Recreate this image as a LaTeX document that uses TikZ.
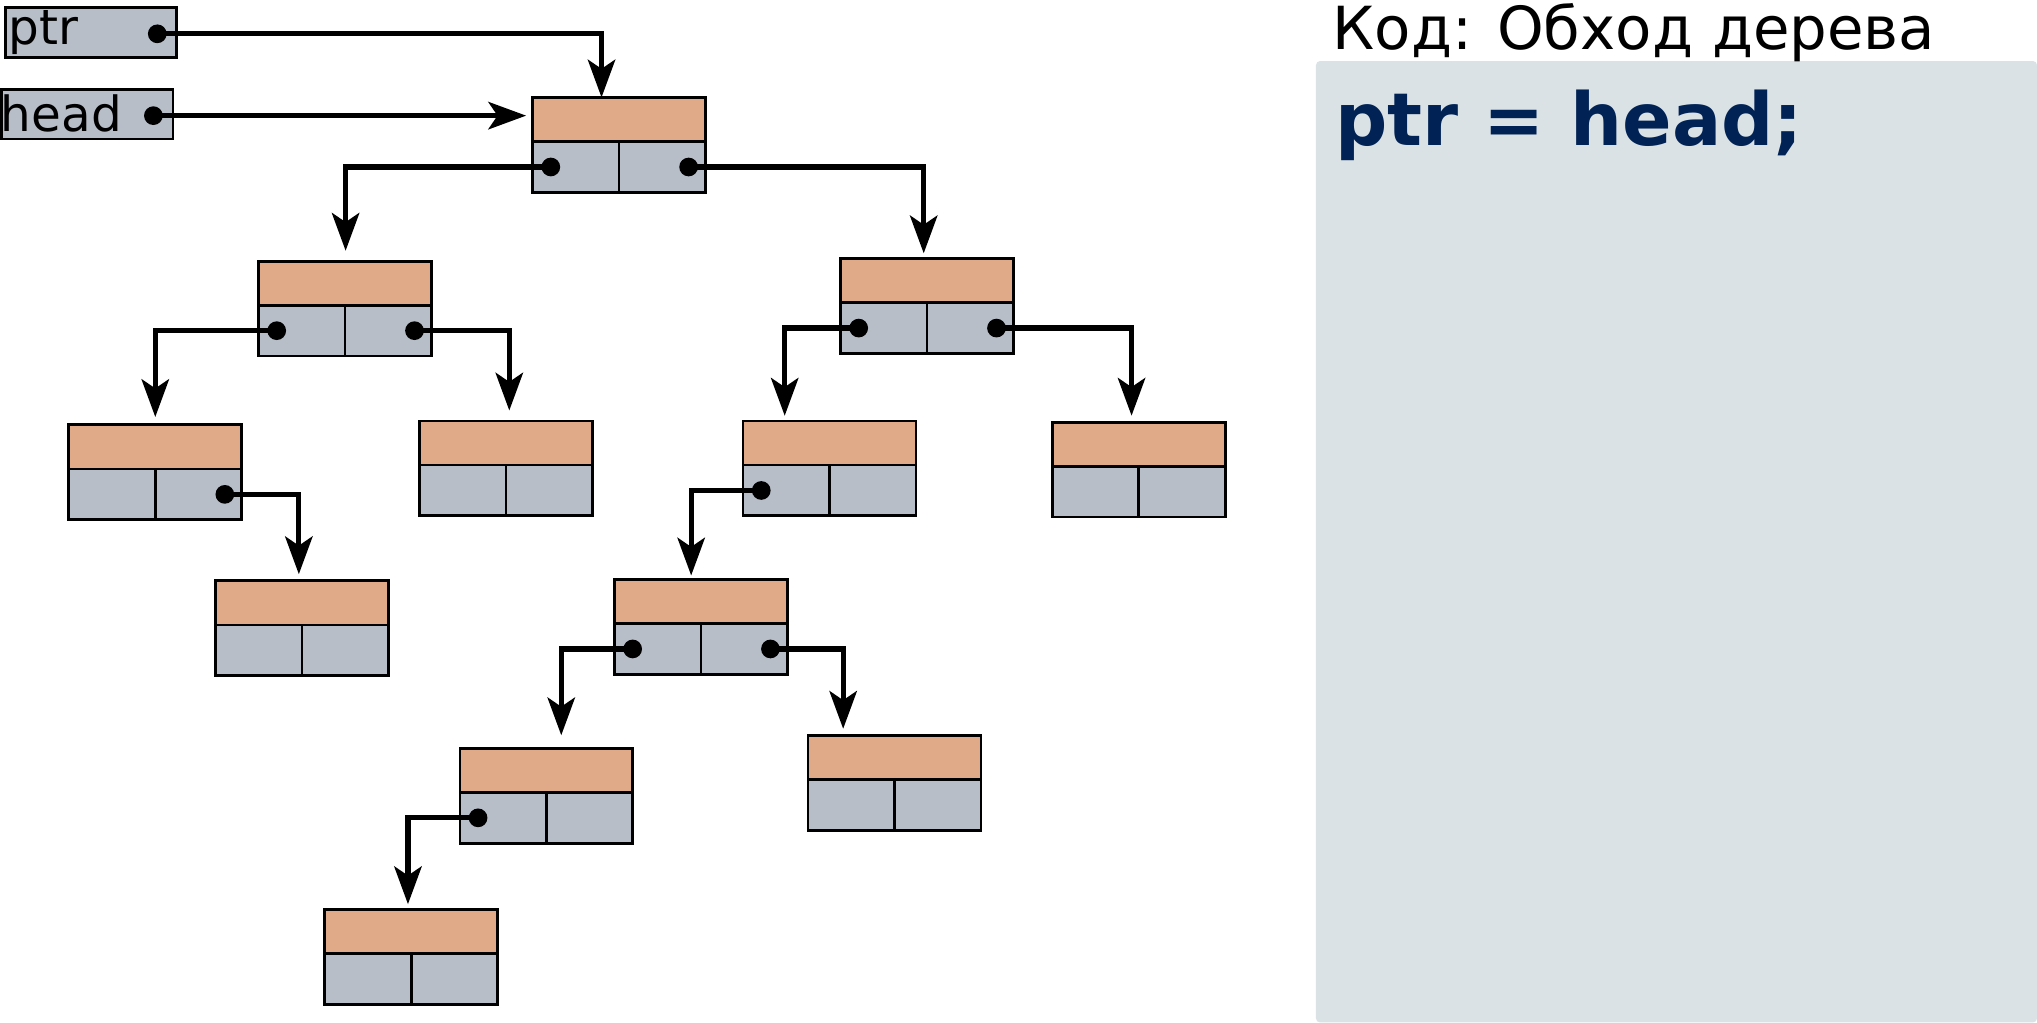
\documentclass[tikz,border=0pt]{standalone}
\usepackage{fontspec}
\setmainfont{DejaVu Sans}
\usetikzlibrary{arrows.meta,calc}

\definecolor{keyfill}{RGB}{224,170,136}
\definecolor{linkfill}{RGB}{183,190,200}
\definecolor{panelfill}{RGB}{218,226,229}
\definecolor{codeblue}{RGB}{0,34,85}

% one tree node: name, x, y of its top left corner
\newcommand{\treenode}[3]{%
  \node[keybox, anchor=north west] (#1) at (#2,#3) {};
  \node[linkbox, anchor=north west] (#1-l) at (#1.south west) {};
  \node[linkbox, anchor=north east] (#1-r) at (#1.south east) {};
  \coordinate (#1-ld) at ($(#1-l.west)+(14,0)$);
  \coordinate (#1-rd) at ($(#1-r.east)+(-13,0)$);
}

\begin{document}
\begin{tikzpicture}[x=0.01cm, y=-0.01cm,
    keybox/.style={draw, line width=0.6pt, fill=keyfill, minimum width=1.33cm, minimum height=0.34cm, inner sep=0pt, outer sep=0pt},
    linkbox/.style={draw, line width=0.6pt, fill=linkfill, minimum width=0.665cm, minimum height=0.39cm, inner sep=0pt, outer sep=0pt},
    varbox/.style={draw, line width=0.6pt, fill=linkfill, minimum width=1.32cm, minimum height=0.38cm, inner sep=0pt, outer sep=0pt},
    varlabel/.style={anchor=base west, inner sep=0pt, font=\fontsize{10.6}{13}\selectfont},
    link/.style={line width=1.15pt, -{Stealth[length=0.29cm, width=0.21cm, inset=0.07cm]}}]

    \useasboundingbox (0,0) rectangle (1568,787);

    % code panel
    \fill[panelfill, rounded corners=0.03cm] (1013,47) rectangle (1568,787);
    \node[anchor=base west, inner sep=0pt, font=\fontsize{13}{15}\selectfont] (title) at (1025,38) {Код: Обход дерева};
    \node[anchor=base west, inner sep=0pt, text=codeblue, font=\fontsize{16}{19}\bfseries] (code) at (1027,112) {ptr = head;};

    % pointer variables
    \node[varbox, anchor=north west] (ptr) at (4,6) {};
    \node[varbox, anchor=north west] (head) at (1,69) {};
    \node[varlabel] (ptr-t) at (6,34) {ptr};
    \node[varlabel] (head-t) at (0,101) {head};
    \coordinate (ptr-d) at ($(ptr.east)+(-15,1)$);
    \coordinate (head-d) at ($(head.east)+(-15,1)$);

    % tree nodes
    \treenode{R}{410}{75}
    \treenode{A}{199}{201}
    \treenode{B}{647}{199}
    \treenode{C}{53}{327}
    \treenode{D}{323}{324}
    \treenode{E}{572}{324}
    \treenode{F}{810}{325}
    \treenode{G}{166}{447}
    \treenode{H}{473}{446}
    \treenode{I}{354}{576}
    \treenode{J}{622}{566}
    \treenode{K}{250}{700}

    % links
    \draw[link] (ptr-d) -| ($(R.north)+(-13.5,0)$);
    \draw[link] (head-d) -- ($(head-d -| R.west)+(-5,0)$);
    \draw[link] (R-ld) -| ($(A.north)+(0.5,-8)$);
    \draw[link] (R-rd) -| ($(B.north)+(-2.5,-4)$);
    \draw[link] (A-ld) -| ($(C.north)+(0,-6)$);
    \draw[link] (A-rd) -| ($(D.north)+(2.5,-8)$);
    \draw[link] (B-ld) -| ($(E.north)+(-34.5,-4)$);
    \draw[link] (B-rd) -| ($(F.north)+(-5.5,-5)$);
    \draw[link] (C-rd) -| ($(G.north)+(-2.5,-5)$);
    \draw[link] (E-ld) -| ($(H.north)+(-7.5,-3)$);
    \draw[link] (H-ld) -| ($(I.north)+(11.5,-10)$);
    \draw[link] (H-rd) -| ($(J.north)+(-39.5,-5)$);
    \draw[link] (I-ld) -| ($(K.north)+(-2.5,-4)$);

    \foreach \d in {ptr-d, head-d, R-ld, R-rd, A-ld, A-rd, B-ld, B-rd, C-rd, E-ld, H-ld, H-rd, I-ld}
        \fill (\d) circle[radius=0.072cm];

\end{tikzpicture}
\end{document}
